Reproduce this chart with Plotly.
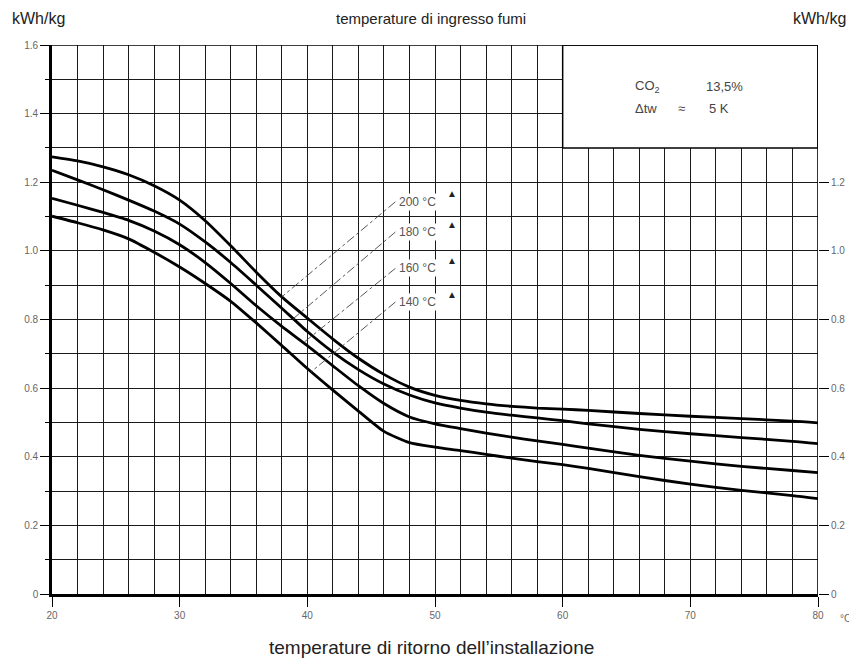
import numpy as np
import plotly.graph_objects as go

# return temperature of the installation (°C)
x_temp = [20, 22, 24, 26, 28, 30, 32, 34, 36, 38, 40, 42, 44, 46, 48, 50,
          52, 54, 56, 58, 60, 62, 66, 70, 74, 78, 80]

# kWh/kg for each flue gas inlet temperature
kwh_200 = [1.274, 1.262, 1.245, 1.222, 1.190, 1.148, 1.088, 1.015, 0.938, 0.866,
           0.804, 0.743, 0.687, 0.640, 0.603, 0.579, 0.564, 0.554, 0.547, 0.542,
           0.539, 0.535, 0.526, 0.518, 0.511, 0.504, 0.499]
kwh_180 = [1.235, 1.207, 1.178, 1.148, 1.116, 1.078, 1.026, 0.966, 0.900, 0.833,
           0.765, 0.705, 0.654, 0.612, 0.580, 0.557, 0.542, 0.530, 0.521, 0.513,
           0.505, 0.496, 0.480, 0.467, 0.456, 0.445, 0.438]
kwh_160 = [1.153, 1.133, 1.112, 1.089, 1.058, 1.018, 0.966, 0.905, 0.840, 0.780,
           0.724, 0.665, 0.607, 0.555, 0.516, 0.496, 0.482, 0.469, 0.457, 0.446,
           0.436, 0.425, 0.404, 0.387, 0.372, 0.360, 0.354]
kwh_140 = [1.101, 1.082, 1.061, 1.035, 0.996, 0.953, 0.905, 0.853, 0.790, 0.724,
           0.657, 0.594, 0.533, 0.474, 0.441, 0.428, 0.418, 0.407, 0.396, 0.386,
           0.377, 0.366, 0.342, 0.320, 0.302, 0.287, 0.278]

series = [("200 °C", kwh_200), ("180 °C", kwh_180), ("160 °C", kwh_160), ("140 °C", kwh_140)]

# curve labels: label anchor (x, y) and where each leader meets its curve
label_x = 47.0
label_y = [1.143, 1.055, 0.949, 0.851]
leader_end_x = [38.0, 38.9, 39.7, 40.3]

x_ticks = [20, 30, 40, 50, 60, 70, 80]
y_ticks = [0, 0.2, 0.4, 0.6, 0.8, 1.0, 1.2, 1.4, 1.6]
y_ticktext = ["0", "0.2", "0.4", "0.6", "0.8", "1.0", "1.2", "1.4", "1.6"]
y2_ticks = [0, 0.2, 0.4, 0.6, 0.8, 1.0, 1.2]
y2_ticktext = ["0", "0.2", "0.4", "0.6", "0.8", "1.0", "1.2"]

FONT = "Liberation Sans, Arial, sans-serif"
GRID = "#1a1a1a"
TICKC = "#666666"

fig = go.Figure()

for (name, vals), ly, ex in zip(series, label_y, leader_end_x):
    fig.add_trace(go.Scatter(x=x_temp, y=vals, mode="lines", name=name,
                             line=dict(color="black", width=2.8, shape="spline", smoothing=0.6),
                             hoverinfo="skip", showlegend=False))
    ey = float(np.interp(ex, x_temp, vals))
    fig.add_trace(go.Scatter(x=[label_x - 0.1, ex], y=[ly, ey], mode="lines",
                             line=dict(color="#444444", width=0.9, dash="dashdot"),
                             hoverinfo="skip", showlegend=False))
    fig.add_annotation(x=label_x, y=ly, text=name, showarrow=False,
                       xanchor="left", yanchor="middle",
                       font=dict(family=FONT, size=12, color="#555555"), bgcolor="white")
    fig.add_annotation(x=label_x, y=ly, text="▲", showarrow=False, xshift=55, yshift=8,
                       xanchor="center", yanchor="middle",
                       font=dict(family=FONT, size=10, color="#222222"))

# invisible trace for right axis
fig.add_trace(go.Scatter(x=[20], y=[0], yaxis="y2", mode="markers",
                         marker=dict(opacity=0), hoverinfo="skip", showlegend=False))

# parameter box at top right
fig.add_shape(type="rect", x0=60, x1=80, y0=1.3, y1=1.6, xref="x", yref="y",
              fillcolor="white", line=dict(color="black", width=1.5), layer="above")
box_font = dict(family=FONT, size=13, color="#444444")
fig.add_annotation(x=65.5, y=1.478, text="CO<sub>2</sub>", showarrow=False, xanchor="left", font=box_font)
fig.add_annotation(x=71.1, y=1.478, text="13,5%", showarrow=False, xanchor="left", font=box_font)
fig.add_annotation(x=65.5, y=1.416, text="Δtw", showarrow=False, xanchor="left", font=box_font)
fig.add_annotation(x=68.9, y=1.416, text="≈", showarrow=False, xanchor="left", font=box_font)
fig.add_annotation(x=71.3, y=1.416, text="5 K", showarrow=False, xanchor="left", font=box_font)

# frame (top and right)
fig.add_shape(type="line", x0=20, x1=80, y0=1.6, y1=1.6, xref="x", yref="y",
              line=dict(color="black", width=1.6), layer="above")
fig.add_shape(type="line", x0=80, x1=80, y0=0, y1=1.6, xref="x", yref="y",
              line=dict(color="black", width=1.6), layer="above")

fig.add_annotation(x=-0.055, y=1.049, xref="paper", yref="paper", text="kWh/kg", showarrow=False,
                   xanchor="left", yanchor="middle", font=dict(family=FONT, size=16, color="#222222"))
fig.add_annotation(x=1.039, y=1.049, xref="paper", yref="paper", text="kWh/kg", showarrow=False,
                   xanchor="right", yanchor="middle", font=dict(family=FONT, size=16, color="#222222"))
fig.add_annotation(x=0.495, y=1.049, xref="paper", yref="paper", text="temperature di ingresso fumi",
                   showarrow=False, xanchor="center", yanchor="middle",
                   font=dict(family=FONT, size=15, color="#222222"))
fig.add_annotation(x=0.495, y=-0.097, xref="paper", yref="paper",
                   text="temperature di ritorno dell’installazione", showarrow=False,
                   xanchor="center", yanchor="middle", font=dict(family=FONT, size=19, color="#222222"))
fig.add_annotation(x=80, y=-0.045, xref="x", yref="paper", xshift=20, text="°C", showarrow=False,
                   xanchor="left", yanchor="middle", font=dict(family=FONT, size=10, color=TICKC))

fig.update_layout(
    width=849, height=652,
    margin=dict(l=44, r=39, t=37, b=66),
    paper_bgcolor="white", plot_bgcolor="white",
    showlegend=False,
    xaxis=dict(range=[20, 80], tickmode="array", tickvals=x_ticks,
               ticks="outside", ticklen=10, tickwidth=1, tickcolor="black",
               tickfont=dict(family=FONT, size=10, color=TICKC),
               showgrid=True, gridcolor=GRID, gridwidth=1.3,
               minor=dict(dtick=2, tick0=20, showgrid=True, gridcolor=GRID, gridwidth=1.3, ticks=""),
               showline=True, linecolor="black", linewidth=2.6, zeroline=False),
    yaxis=dict(range=[0, 1.6], tickmode="array", tickvals=y_ticks, ticktext=y_ticktext,
               ticks="outside", ticklen=9, tickwidth=1, tickcolor="black",
               tickfont=dict(family=FONT, size=10, color=TICKC),
               showgrid=True, gridcolor=GRID, gridwidth=1.3,
               minor=dict(dtick=0.1, tick0=0, showgrid=True, gridcolor=GRID, gridwidth=1.3,
                          ticks="outside", ticklen=4, tickcolor="black"),
               showline=True, linecolor="black", linewidth=2.6, zeroline=False),
    yaxis2=dict(range=[0, 1.6], overlaying="y", side="right", anchor="x",
                tickmode="array", tickvals=y2_ticks, ticktext=y2_ticktext,
                ticks="outside", ticklen=10, tickwidth=1, tickcolor="black",
                tickfont=dict(family=FONT, size=10, color=TICKC),
                showgrid=False, showline=False, zeroline=False),
)

fig.write_html("out.html")
